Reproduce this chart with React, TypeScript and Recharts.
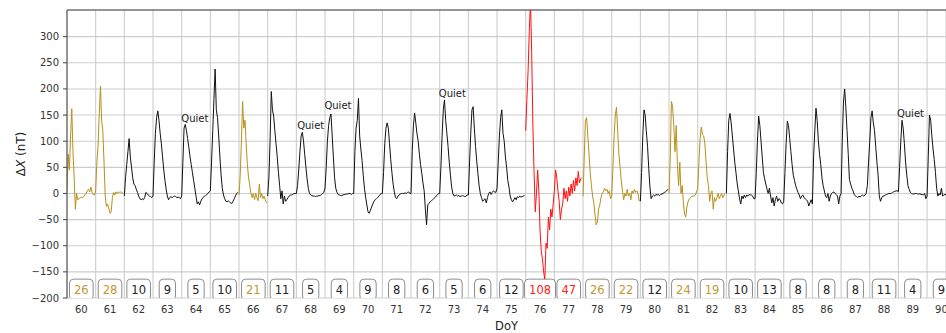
import React from 'react';
import {
    ComposedChart,
    Line,
    Scatter,
    XAxis,
    YAxis,
    CartesianGrid,
    ReferenceLine,
} from 'recharts';

// day of year, one hourly ΔX trace (nT) per day
const DAYS = [60, 61, 62, 63, 64, 65, 66, 67, 68, 69, 70, 71, 72, 73, 74, 75, 76, 77, 78, 79, 80, 81, 82, 83, 84, 85, 86, 87, 88, 89, 90];

// daily Ap index printed in the boxes
const AP = [26, 28, 10, 9, 5, 10, 21, 11, 5, 4, 9, 8, 6, 5, 6, 12, 108, 47, 26, 22, 12, 24, 19, 10, 13, 8, 8, 8, 11, 4, 9];

const dX60 = [5, 75, 45, 110, 162, 80, 30, -30, 0, -12, -10, -8, -8, -8, -6, -3, 0, 5, 8, 3, 12, 2, -2, -3];
const dX61 = [5, 60, 90, 150, 205, 140, 120, 60, -5, -25, -20, -28, -38, -35, -8, 2, -3, 3, 0, 3, 2, 3, 2, 0];
const dX62 = [-5, 30, 55, 80, 105, 70, 50, 30, 18, 15, 8, 2, -5, -10, -12, -10, -12, -8, 2, 0, -3, -5, -6, -8];
const dX63 = [-5, 60, 115, 145, 158, 140, 115, 95, 70, 45, 25, 8, -5, -12, -8, -6, -8, -6, -5, -6, -8, -7, -8, -10];
const dX64 = [-5, 60, 125, 132, 120, 105, 88, 70, 55, 40, 25, 10, -5, -20, -16, -22, -15, -10, -8, -5, -4, -2, 0, 3];
const dX65 = [5, 60, 120, 180, 238, 160, 145, 110, 70, 35, 10, -3, -10, -15, -16, -14, -16, -18, -19, -15, -10, -5, 0, 2];
const dX66 = [-3, 35, 100, 176, 125, 140, 95, 55, 30, 15, 0, -8, 0, -12, 0, -8, -14, 18, -8, 0, -10, -5, -12, -18];
const dX67 = [-5, 30, 100, 195, 160, 148, 120, 95, 70, 40, 15, -10, 5, -20, -5, -15, -12, -8, -5, -3, -3, -2, 0, 0];
const dX68 = [0, 15, 45, 80, 110, 117, 100, 75, 50, 28, 10, 0, -3, -4, -5, -5, -6, -5, -5, -4, -4, -2, 0, 2];
const dX69 = [10, 50, 100, 130, 145, 152, 110, 70, 30, 10, 2, -2, -3, -4, -4, -3, -2, -2, -1, -1, 0, 0, -2, 0];
const dX70 = [0, 80, 125, 140, 182, 110, 85, 63, 35, 10, -7, -22, -35, -38, -32, -26, -20, -15, -12, -10, -8, -5, -3, 0];
const dX71 = [0, 40, 95, 125, 135, 125, 95, 65, 40, 18, 3, -8, -10, -5, -3, -1, 0, 0, 0, 1, 0, 2, 3, 0];
const dX72 = [0, 80, 130, 154, 135, 114, 100, 75, 55, 38, 20, 5, -30, -60, -22, -19, -16, -14, -12, -10, -8, -5, -3, 0];
const dX73 = [0, 50, 110, 160, 179, 140, 115, 90, 60, 35, 12, 0, -5, -4, -3, -5, -4, -6, -5, -4, -5, -6, -5, -3];
const dX74 = [-3, 60, 115, 160, 166, 125, 90, 62, 38, 15, 0, -8, -15, -12, -10, -18, -8, 0, 3, -2, 2, 5, 3, 2];
const dX75 = [10, 60, 110, 145, 160, 115, 100, 70, 50, 25, 12, -5, -12, -16, -12, -8, -12, -6, -8, -5, -7, -6, -5, -4];
const dX76 = [120, 180, 235, 310, 370, 270, 130, 40, -35, 0, 45, 5, -70, -110, -125, -150, -165, -95, -105, -45, -70, -30, -45, -20];
const dX77 = [5, 45, 30, 5, -15, -50, -30, -20, 10, -10, 5, -15, 12, -5, 18, 0, 25, 5, 30, 15, 42, 20, 28, 30];
const dX78 = [-5, 70, 140, 145, 110, 75, 40, 15, -5, -18, -40, -60, -55, -30, -22, -8, 0, 3, 10, 5, 8, 0, 5, -10];
const dX79 = [-5, 50, 110, 150, 165, 120, 75, 50, 25, 5, -12, 0, -5, 8, -5, 0, -12, 5, 0, 8, 2, 5, 0, -15];
const dX80 = [-15, 40, 110, 160, 150, 118, 90, 48, 12, -10, -5, -3, -5, -2, -3, -2, -4, -2, -1, 0, 2, 3, 5, 8];
const dX81 = [0, 70, 176, 165, 128, 80, 130, 55, 15, 60, 0, 15, -18, -40, -45, -25, -15, -10, -8, -6, -5, -5, -3, 3];
const dX82 = [10, 60, 105, 127, 112, 110, 95, 60, 30, 15, -15, 0, 5, -30, -8, -15, -8, 0, -10, -5, 0, -8, -3, 0];
const dX83 = [0, 80, 140, 153, 135, 110, 85, 60, 40, 20, 5, -10, -20, -5, -10, -3, -8, -3, -5, -2, -3, -3, -5, -10];
const dX84 = [-10, 40, 100, 148, 130, 100, 70, 40, 28, 18, 8, 0, 10, -5, -18, -8, -24, -12, -5, -15, -10, -12, -18, -20];
const dX85 = [-15, 40, 95, 138, 130, 105, 80, 55, 35, 25, 15, 8, 2, -3, -10, -5, -3, -8, -10, -12, -15, -24, -18, -12];
const dX86 = [-20, 70, 120, 163, 140, 100, 75, 55, 30, 15, 5, -5, -8, 0, -15, -5, 0, 2, 3, 0, -2, -5, -20, -5];
const dX87 = [0, 100, 175, 200, 165, 120, 75, 27, 18, 10, 5, -2, -5, -6, -8, -5, -7, -4, -3, -5, -3, 0, 15, 60];
const dX88 = [100, 145, 158, 135, 120, 90, 60, 35, -5, -15, -8, -5, -5, -3, -2, -1, 0, 0, 0, 2, 3, 4, 5, 5];
const dX89 = [3, 50, 100, 140, 125, 95, 60, 35, 15, 8, 2, 0, -1, -1, 0, 0, -1, -1, -1, -2, -2, -3, 0, -10];
const dX90 = [-5, 70, 150, 140, 110, 85, 65, 40, 10, -5, 0, -3, 10, -5, -3, -2, -2];

const DX_BY_DAY = [
    dX60, dX61, dX62, dX63, dX64, dX65, dX66, dX67, dX68, dX69, dX70,
    dX71, dX72, dX73, dX74, dX75, dX76, dX77, dX78, dX79, dX80,
    dX81, dX82, dX83, dX84, dX85, dX86, dX87, dX88, dX89, dX90,
];

// annotated quiet days: where the label sits (DoY, nT)
const QUIET_X = [64.46, 68.5, 69.45, 73.44, 89.42];
const QUIET_Y = [144, 130, 168, 191, 153];

const Y_TICKS = [-200, -150, -100, -50, 0, 50, 100, 150, 200, 250, 300];
const X_MIN = 60;
const X_MAX = 90.66;
const Y_MIN = -200;
const Y_MAX = 351;
const BOX_LEVEL = -184;

const COLORS: Record<string, string> = {
    quiet: '#111',
    active: '#b8901a',
    storm: '#ff1010',
};
const TEXT_COLORS: Record<string, string> = {
    quiet: '#222',
    active: '#c09a30',
    storm: '#ff2020',
};

const FONT = '"DejaVu Sans", sans-serif';

function activity(ap: number) {
    if (ap >= 40) return 'storm';
    if (ap >= 15) return 'active';
    return 'quiet';
}

// consecutive days with the same activity level become one line
const segments: { level: string; points: { x: number; y: number }[] }[] = [];
DAYS.forEach((day, i) => {
    const level = activity(AP[i]);
    const pts = DX_BY_DAY[i].map((v, h) => ({ x: day + h / 24, y: v }));
    const last = segments[segments.length - 1];
    if (last && last.level === level) last.points.push(...pts);
    else segments.push({ level, points: pts });
});

const boxes = DAYS.map((day, i) => ({ x: day + 0.5, y: BOX_LEVEL, ap: AP[i], level: activity(AP[i]) }));
const quietNotes = QUIET_X.map((x, i) => ({ x, y: QUIET_Y[i] }));
const dayTicks = DAYS;
const labelTicks = DAYS.map((d) => d + 0.5);

const fmtY = (v: number) => (v < 0 ? `\u2212${Math.abs(v)}` : `${v}`);

function ApBox(props: any) {
    const { cx, cy, payload } = props;
    if (cx == null || cy == null) return <g />;
    const txt = String(payload.ap);
    const w = txt.length * 7.3 + 9;
    return (
        <g>
            <rect x={cx - w / 2} y={cy - 10.5} width={w} height={21} rx={4} fill="#fff" stroke="#8c8c8c" strokeWidth={1} />
            <text x={cx} y={cy} dy="0.36em" textAnchor="middle" fontSize={11.5} fontFamily={FONT} fill={TEXT_COLORS[payload.level]}>
                {txt}
            </text>
        </g>
    );
}

function QuietLabel(props: any) {
    const { cx, cy } = props;
    if (cx == null || cy == null) return <g />;
    return (
        <text x={cx} y={cy} dy="0.36em" textAnchor="middle" fontSize={10} fontFamily={FONT} fill="#222">
            Quiet
        </text>
    );
}

function YLabel(props: any) {
    const vb = props.viewBox || { x: 0, y: 10, width: 67, height: 288 };
    const x = vb.x + 21;
    const y = vb.y + vb.height / 2;
    return (
        <text x={x} y={y} transform={`rotate(-90 ${x} ${y})`} textAnchor="middle" dominantBaseline="central" fontSize={12} fontFamily={FONT} fill="#222">
            <tspan>Δ</tspan>
            <tspan fontStyle="italic">X</tspan>
            <tspan> (nT)</tspan>
        </text>
    );
}

function XLabel(props: any) {
    const vb = props.viewBox || { x: 67, y: 298, width: 879, height: 30 };
    return (
        <text x={vb.x + vb.width / 2} y={vb.y + 32} textAnchor="middle" fontSize={11.5} fontFamily={FONT} fill="#222">
            DoY
        </text>
    );
}

export default function App() {
    return (
        <div style={{ position: 'absolute', left: 0, top: 0, width: 946, height: 333, background: '#fff' }}>
            <ComposedChart width={946} height={333} margin={{ top: 10, right: 0, bottom: 5, left: 0 }} style={{ fontFamily: FONT }}>
                <CartesianGrid xAxisId="days" stroke="#cdcdcd" strokeWidth={1.1} />
                <XAxis
                    xAxisId="days"
                    dataKey="x"
                    type="number"
                    domain={[X_MIN, X_MAX]}
                    allowDataOverflow
                    ticks={dayTicks}
                    interval={0}
                    height={0}
                    tick={() => <g />}
                    tickSize={4}
                    tickLine={{ stroke: '#444' }}
                    axisLine={{ stroke: '#444' }}
                />
                <XAxis
                    xAxisId="labels"
                    dataKey="x"
                    type="number"
                    domain={[X_MIN, X_MAX]}
                    allowDataOverflow
                    ticks={labelTicks}
                    interval={0}
                    height={30}
                    tickFormatter={(v: number) => `${Math.floor(v)}`}
                    tick={{ fill: '#333', fontSize: 10 }}
                    tickLine={false}
                    tickSize={4}
                    tickMargin={4}
                    axisLine={false}
                    label={{ content: XLabel }}
                />
                <YAxis
                    dataKey="y"
                    type="number"
                    domain={[Y_MIN, Y_MAX]}
                    allowDataOverflow
                    ticks={Y_TICKS}
                    interval={0}
                    width={67}
                    tickFormatter={fmtY}
                    tick={{ fill: '#333', fontSize: 10 }}
                    tickSize={4}
                    tickMargin={4}
                    tickLine={{ stroke: '#444' }}
                    axisLine={{ stroke: '#444' }}
                    label={{ content: YLabel }}
                />
                <ReferenceLine xAxisId="days" y={Y_MAX} stroke="#444" strokeWidth={1} />
                {segments.map((s, i) => (
                    <Line
                        key={i}
                        xAxisId="days"
                        data={s.points}
                        dataKey="y"
                        type="linear"
                        stroke={COLORS[s.level]}
                        strokeWidth={1}
                        dot={false}
                        activeDot={false}
                        isAnimationActive={false}
                    />
                ))}
                <Scatter xAxisId="days" data={quietNotes} shape={QuietLabel} isAnimationActive={false} />
                <Scatter xAxisId="labels" data={boxes} shape={ApBox} isAnimationActive={false} />
            </ComposedChart>
        </div>
    );
}
